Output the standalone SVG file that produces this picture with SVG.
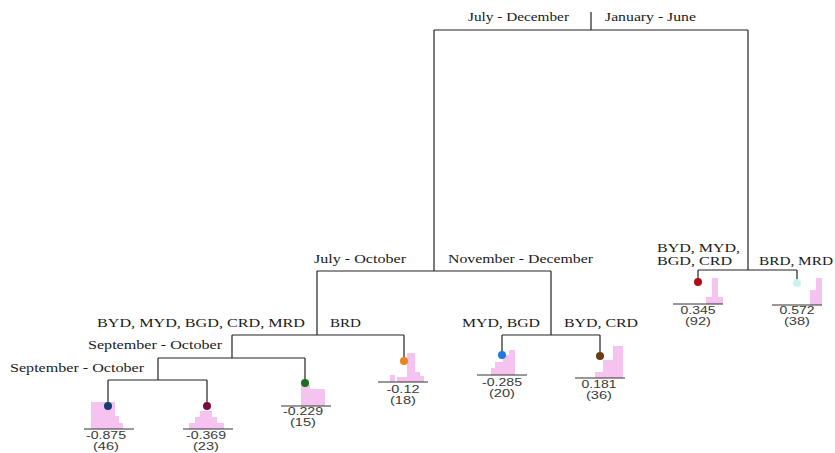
<svg xmlns="http://www.w3.org/2000/svg" width="835" height="453" viewBox="0 0 835 453">
<style>
.lbl{font-family:"Liberation Serif","Times New Roman",serif;font-size:12.5px;fill:#1a1a1a}
.num{font-family:"Liberation Sans",Arial,sans-serif;font-size:10.5px;fill:#3a3a3a;text-anchor:middle}
.edge{stroke:#222;stroke-width:1.2;fill:none}
.base{stroke:#333;stroke-width:1}
.bar{fill:#f6c2f0}
</style>
<rect width="835" height="453" fill="#fff"/>
<g id="connectors">
<path class="edge" d="M591 12V30M434 30H748M434 30V271M748 30V270M317 271H551M698 270H797M698 270V282M797 270V283M317 271V335M551 271V335M232 335H404M502 335H600M404 335V361M502 335V355M600 335V356M232 335V358M158 358H305M305 358V383M158 358V380M108 380H207M108 380V406M207 380V406"/>
</g>
<g id="root">
<text class="lbl" x="468" y="21" textLength="101" lengthAdjust="spacingAndGlyphs">July - December</text>
<text class="lbl" x="605" y="21" textLength="91" lengthAdjust="spacingAndGlyphs">January - June</text>
</g>
<g id="node-jul-dec">
<text class="lbl" x="314" y="263" textLength="92" lengthAdjust="spacingAndGlyphs">July - October</text>
<text class="lbl" x="448" y="263" textLength="145" lengthAdjust="spacingAndGlyphs">November - December</text>
</g>
<g id="node-jan-jun">
<text class="lbl" x="657" y="252" textLength="83" lengthAdjust="spacingAndGlyphs">BYD, MYD,</text>
<text class="lbl" x="657" y="265" textLength="75" lengthAdjust="spacingAndGlyphs">BGD, CRD</text>
<text class="lbl" x="759" y="265" textLength="74" lengthAdjust="spacingAndGlyphs">BRD, MRD</text>
</g>
<g id="node-jul-oct">
<text class="lbl" x="97" y="327" textLength="208" lengthAdjust="spacingAndGlyphs">BYD, MYD, BGD, CRD, MRD</text>
<text class="lbl" x="330" y="327" textLength="31" lengthAdjust="spacingAndGlyphs">BRD</text>
</g>
<g id="node-nov-dec">
<text class="lbl" x="462" y="327" textLength="78" lengthAdjust="spacingAndGlyphs">MYD, BGD</text>
<text class="lbl" x="564" y="327" textLength="74" lengthAdjust="spacingAndGlyphs">BYD, CRD</text>
</g>
<g id="node-sep-oct-1">
<text class="lbl" x="88" y="349" textLength="134" lengthAdjust="spacingAndGlyphs">September - October</text>
</g>
<g id="node-sep-oct-2">
<text class="lbl" x="10" y="372" textLength="134" lengthAdjust="spacingAndGlyphs">September - October</text>
</g>
<g id="leaf-a">
<rect class="bar" x="91" y="402" width="24" height="27"/><rect class="bar" x="115" y="416" width="4" height="13"/><rect class="bar" x="119" y="423" width="4" height="6"/>
<line class="base" x1="84" y1="429" x2="134" y2="429"/>
<circle cx="108" cy="406" r="4" fill="#123f70"/>
<text class="num" x="106" y="439" textLength="40" lengthAdjust="spacingAndGlyphs">-0.875</text>
<text class="num" x="106" y="450" textLength="26" lengthAdjust="spacingAndGlyphs">(46)</text>
</g>
<g id="leaf-b">
<rect class="bar" x="200" y="411" width="12" height="18"/><rect class="bar" x="195" y="417" width="22" height="12"/><rect class="bar" x="189" y="423" width="35" height="6"/>
<line class="base" x1="183" y1="429" x2="233" y2="429"/>
<circle cx="207" cy="406" r="4" fill="#7a0d40"/>
<text class="num" x="206" y="439" textLength="40" lengthAdjust="spacingAndGlyphs">-0.369</text>
<text class="num" x="206" y="450" textLength="26" lengthAdjust="spacingAndGlyphs">(23)</text>
</g>
<g id="leaf-c">
<rect class="bar" x="301" y="385" width="9" height="21"/><rect class="bar" x="310" y="389" width="15" height="17"/>
<line class="base" x1="281" y1="406" x2="331" y2="406"/>
<circle cx="305" cy="383" r="4" fill="#1b6e1f"/>
<text class="num" x="303" y="415" textLength="40" lengthAdjust="spacingAndGlyphs">-0.229</text>
<text class="num" x="303" y="426" textLength="26" lengthAdjust="spacingAndGlyphs">(15)</text>
</g>
<g id="leaf-d">
<rect class="bar" x="390" y="375" width="5" height="7"/><rect class="bar" x="397" y="377" width="10" height="5"/><rect class="bar" x="407" y="353" width="8" height="29"/><rect class="bar" x="415" y="372" width="5" height="10"/><rect class="bar" x="420" y="376" width="4" height="6"/>
<line class="base" x1="378" y1="382" x2="428" y2="382"/>
<circle cx="404" cy="361" r="4" fill="#ea841e"/>
<text class="num" x="403" y="393" textLength="33" lengthAdjust="spacingAndGlyphs">-0.12</text>
<text class="num" x="403" y="404" textLength="26" lengthAdjust="spacingAndGlyphs">(18)</text>
</g>
<g id="leaf-e">
<rect class="bar" x="491" y="368" width="4" height="7"/><rect class="bar" x="495" y="362" width="8" height="13"/><rect class="bar" x="503" y="355" width="6" height="20"/><rect class="bar" x="509" y="350" width="6" height="25"/>
<line class="base" x1="477" y1="375" x2="527" y2="375"/>
<circle cx="502" cy="355" r="4" fill="#1f7ae0"/>
<text class="num" x="502" y="386" textLength="40" lengthAdjust="spacingAndGlyphs">-0.285</text>
<text class="num" x="502" y="397" textLength="26" lengthAdjust="spacingAndGlyphs">(20)</text>
</g>
<g id="leaf-f">
<rect class="bar" x="595" y="372" width="8" height="6"/><rect class="bar" x="603" y="360" width="10" height="18"/><rect class="bar" x="613" y="346" width="10" height="32"/>
<line class="base" x1="575" y1="378" x2="625" y2="378"/>
<circle cx="600" cy="356" r="4" fill="#6b3a10"/>
<text class="num" x="599" y="388" textLength="35" lengthAdjust="spacingAndGlyphs">0.181</text>
<text class="num" x="599" y="399" textLength="26" lengthAdjust="spacingAndGlyphs">(36)</text>
</g>
<g id="leaf-g">
<rect class="bar" x="706" y="297" width="17" height="7"/><rect class="bar" x="712" y="278" width="6" height="19"/>
<line class="base" x1="673" y1="304" x2="723" y2="304"/>
<circle cx="698" cy="282" r="4" fill="#b30c12"/>
<text class="num" x="698" y="314" textLength="35" lengthAdjust="spacingAndGlyphs">0.345</text>
<text class="num" x="698" y="325" textLength="26" lengthAdjust="spacingAndGlyphs">(92)</text>
</g>
<g id="leaf-h">
<rect class="bar" x="810" y="290" width="6" height="15"/><rect class="bar" x="816" y="278" width="6" height="27"/>
<line class="base" x1="772" y1="305" x2="822" y2="305"/>
<circle cx="797" cy="283" r="4" fill="#ccf2f2"/>
<text class="num" x="797" y="314" textLength="35" lengthAdjust="spacingAndGlyphs">0.572</text>
<text class="num" x="797" y="325" textLength="26" lengthAdjust="spacingAndGlyphs">(38)</text>
</g>
</svg>
